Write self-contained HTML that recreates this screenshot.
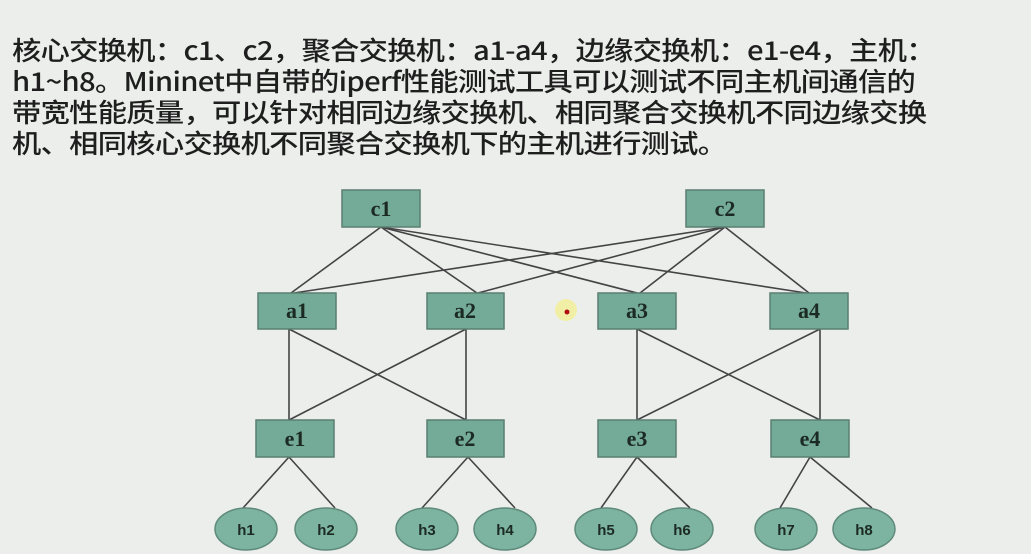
<!DOCTYPE html>
<html><head><meta charset="utf-8"><style>
html,body{margin:0;padding:0;}
body{width:1031px;height:558px;background:#eceeec;overflow:hidden;position:relative;font-family:"Liberation Sans","Noto Sans CJK SC",sans-serif;}
.t{position:absolute;left:12px;top:34px;font-size:26px;line-height:31px;color:#1e1e1e;white-space:nowrap;font-family:"Noto Sans CJK SC","Liberation Sans",sans-serif;font-weight:500;letter-spacing:-0.6px;transform:scaleX(1.125);transform-origin:0 0;}
svg{position:absolute;left:0;top:0;}
</style></head><body>
<div class="t">核心交换机：c1、c2，聚合交换机：a1-a4，边缘交换机：e1-e4，主机：<br>h1~h8。Mininet中自带的iperf性能测试工具可以测试不同主机间通信的<br>带宽性能质量，可以针对相同边缘交换机、相同聚合交换机不同边缘交换<br>机、相同核心交换机不同聚合交换机下的主机进行测试。</div>
<svg width="1031" height="558">
<g stroke="#444" stroke-width="1.6" fill="none">
<line x1="381" y1="227" x2="291" y2="293"/><line x1="381" y1="227" x2="477" y2="293"/>
<line x1="381" y1="227" x2="637" y2="293"/><line x1="381" y1="227" x2="806" y2="293"/>
<line x1="725" y1="227" x2="294" y2="293"/><line x1="725" y1="227" x2="478" y2="293"/>
<line x1="725" y1="227" x2="640" y2="293"/><line x1="725" y1="227" x2="809" y2="293"/>
<line x1="289" y1="329" x2="289" y2="420"/><line x1="289" y1="329" x2="466" y2="420"/>
<line x1="466" y1="329" x2="289" y2="420"/><line x1="466" y1="329" x2="466" y2="420"/>
<line x1="637" y1="329" x2="637" y2="420"/><line x1="637" y1="329" x2="820" y2="420"/>
<line x1="820" y1="329" x2="637" y2="420"/><line x1="820" y1="329" x2="820" y2="420"/>
<line x1="289" y1="457" x2="243" y2="508"/><line x1="289" y1="457" x2="335" y2="508"/>
<line x1="468" y1="457" x2="422" y2="508"/><line x1="468" y1="457" x2="515" y2="508"/>
<line x1="637" y1="457" x2="601" y2="508"/><line x1="637" y1="457" x2="690" y2="508"/>
<line x1="810" y1="457" x2="780" y2="508"/><line x1="810" y1="457" x2="872" y2="508"/>
</g>
<g fill="#74aa98" stroke="#5a7f72" stroke-width="1.5">
<rect x="342" y="190" width="78" height="37"/><rect x="686" y="190" width="78" height="37"/>
<rect x="258" y="293" width="78" height="36"/><rect x="427" y="293" width="77" height="36"/>
<rect x="598" y="293" width="78" height="36"/><rect x="770" y="293" width="78" height="36"/>
<rect x="256" y="420" width="78" height="37"/><rect x="427" y="420" width="77" height="37"/>
<rect x="598" y="420" width="78" height="37"/><rect x="771" y="420" width="78" height="37"/>
</g>
<g fill="#7db3a1" stroke="#5e8a7b" stroke-width="1.5">
<ellipse cx="246" cy="529" rx="31" ry="21"/><ellipse cx="326" cy="529" rx="31" ry="21"/>
<ellipse cx="427" cy="529" rx="31" ry="21"/><ellipse cx="505" cy="529" rx="31" ry="21"/>
<ellipse cx="606" cy="529" rx="31" ry="21"/><ellipse cx="682" cy="529" rx="31" ry="21"/>
<ellipse cx="786" cy="529" rx="31" ry="21"/><ellipse cx="864" cy="529" rx="31" ry="21"/>
</g>
<g font-family="Liberation Serif,serif" font-weight="bold" font-size="22" fill="#1c2a24" text-anchor="middle">
<text x="381" y="216">c1</text><text x="725" y="216">c2</text>
<text x="297" y="318">a1</text><text x="465" y="318">a2</text><text x="637" y="318">a3</text><text x="809" y="318">a4</text>
<text x="295" y="446">e1</text><text x="465" y="446">e2</text><text x="637" y="446">e3</text><text x="810" y="446">e4</text>
</g>
<g font-family="Liberation Sans,sans-serif" font-weight="bold" font-size="15" fill="#1c2a24" text-anchor="middle">
<text x="246" y="535">h1</text><text x="326" y="535">h2</text><text x="427" y="535">h3</text><text x="505" y="535">h4</text>
<text x="606" y="535">h5</text><text x="682" y="535">h6</text><text x="786" y="535">h7</text><text x="864" y="535">h8</text>
</g>
<circle cx="566" cy="310" r="11" fill="#f2ee9a" opacity="0.85"/>
<circle cx="567" cy="312" r="2.5" fill="#b01010"/>
<rect x="0" y="554" width="1031" height="4" fill="#ffffff"/>
</svg>
</body></html>
